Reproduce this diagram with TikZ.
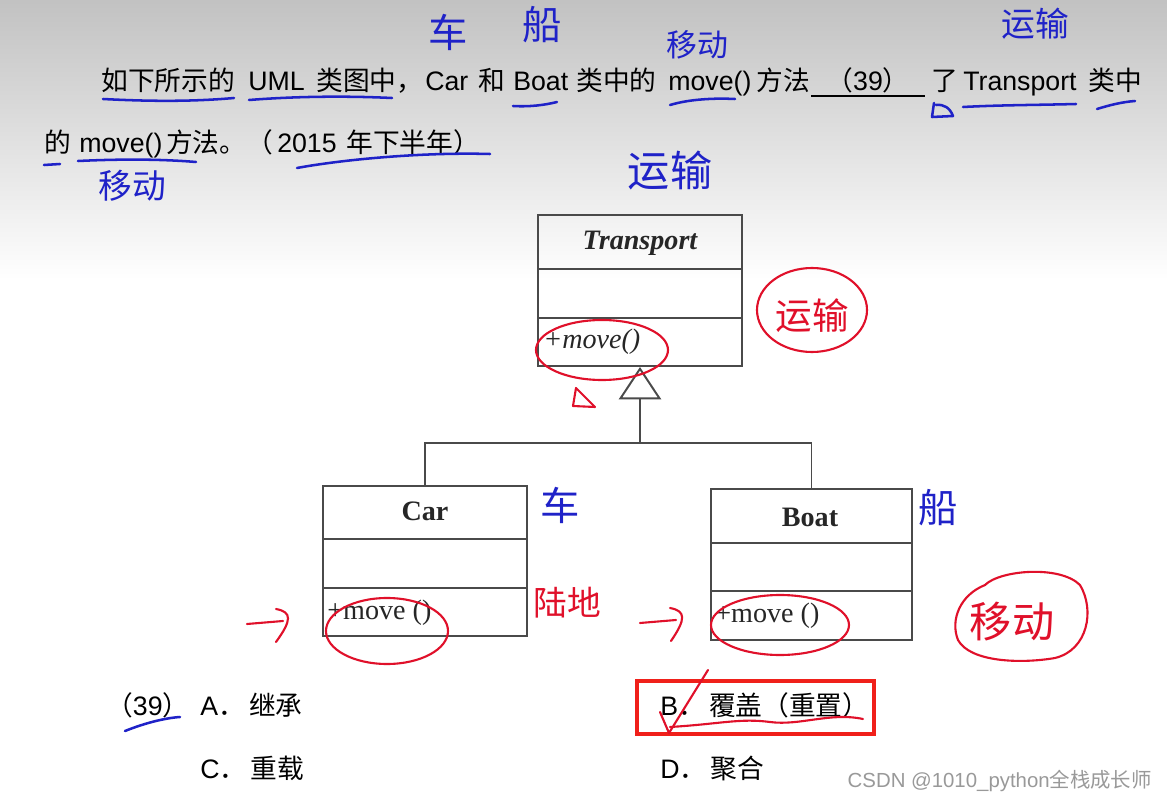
\documentclass[tikz,border=0pt]{standalone}
\usepackage{fontspec}
\setmainfont{Liberation Sans}
\newfontfamily\cjk{Noto Sans CJK SC}
\newfontfamily\tms{Liberation Serif}
\usetikzlibrary{arrows.meta}
\definecolor{pen}{HTML}{1F22C8}
\definecolor{redpen}{HTML}{E0102A}
\definecolor{boxred}{HTML}{F0201A}
\definecolor{umlln}{HTML}{4A4A4A}
\newcommand\hwf[1]{\cjk\fontsize{#1}{#1}\selectfont}
\begin{document}
\begin{tikzpicture}[x=0.025cm,y=-0.025cm,
  qt/.style={anchor=base west,inner sep=0,font=\fontsize{19}{22}\selectfont},
  cls/.style={draw=umlln,line width=1.4pt,inner sep=0},
  umlline/.style={draw=umlln,line width=1.4pt},
  umltxt/.style={inner sep=0,text=black!85},
  bp/.style={draw=pen,line width=1.8pt,line cap=round,line join=round},
  rp/.style={draw=redpen,line width=1.5pt,line cap=round,line join=round},
  hwb/.style={inner sep=0,text=pen},
  hwr/.style={inner sep=0,text=redpen}]
\useasboundingbox (0,0) rectangle (1167,801);
\fill[white] (0,0) rectangle (1167,801);
\shade[top color=black!24,bottom color=white] (0,0) rectangle (1167,280);

% ---------- question text, line 1
\node[qt] (l1a) at (101,91) {\cjk 如下所示的};
\node[qt] (l1b) at (248,91) {UML};
\node[qt] (l1c) at (316,91) {\cjk 类图中，};
\node[qt] (l1d) at (425,91) {Car};
\node[qt] (l1e) at (478,91) {\cjk 和};
\node[qt] (l1f) at (513,91) {Boat};
\node[qt] (l1g) at (576,91) {\cjk 类中的};
\node[qt] (l1h) at (668,91) {move()};
\node[qt] (l1i) at (756,91) {\cjk 方法};
\draw[line width=1.4pt] (811,96) -- (925,96);
\node[qt,anchor=base] (l1j) at (868,91) {{\cjk （}39{\cjk ）}};
\node[qt] (l1k) at (931,91) {\cjk 了};
\node[qt] (l1l) at (963,91) {Transport};
\node[qt] (l1m) at (1088,91) {\cjk 类中};
% ---------- line 2
\node[qt] (l2a) at (44,153) {\cjk 的};
\node[qt] (l2b) at (79,153) {move()};
\node[qt] (l2c) at (166,153) {\cjk 方法。（};
\node[qt] (l2d) at (277,153) {2015};
\node[qt] (l2e) at (346,153) {\cjk 年下半年）};

% ---------- UML class diagram
\node[cls,minimum width=5.1cm,minimum height=3.775cm] (transport) at (640,290.5) {};
\draw[umlline] (538,269) -- (742,269) (538,318) -- (742,318);
\node[umltxt,font=\tms\bfseries\itshape\fontsize{20}{24}\selectfont] (tname) at (640,243) {Transport};
\node[umltxt,anchor=base west,font=\tms\itshape\fontsize{20}{24}\selectfont] (tmove) at (543,349) {+move()};

\node[cls,minimum width=5.1cm,minimum height=3.75cm] (car) at (425,561) {};
\draw[umlline] (323,539) -- (527,539) (323,588) -- (527,588);
\node[umltxt,font=\tms\bfseries\fontsize{20}{24}\selectfont] (cname) at (425,511) {Car};
\node[umltxt,anchor=base west,font=\tms\fontsize{20}{24}\selectfont] (cmove) at (327,619) {+move ()};

\node[cls,minimum width=5.025cm,minimum height=3.775cm] (boat) at (811.5,564.5) {};
\draw[umlline] (711,543) -- (912,543) (711,591) -- (912,591);
\node[umltxt,font=\tms\bfseries\fontsize{20}{24}\selectfont] (bname) at (810,517) {Boat};
\node[umltxt,anchor=base west,font=\tms\fontsize{20}{24}\selectfont] (bmove) at (715,622) {+move ()};

\coordinate (jn) at (640,443);
\draw[umlline] (car.north) |- (jn) -| (boat.north);
\draw[umlline,-{Triangle[open,length=23pt,width=30pt]}] (jn) -- (transport.south);

% ---------- options
\node[qt] (o39) at (106,715) {{\cjk （}39{\cjk ）}};
\node[qt] (oa) at (200,715) {A{\cjk ．\hspace{3pt}继承}};
\node[qt] (ob) at (660,715) {B{\cjk ．\hspace{3pt}覆盖（重置）}};
\node[qt] (oc) at (200,778) {C{\cjk ．\hspace{3pt}重载}};
\node[qt] (od) at (660,778) {D{\cjk ．\hspace{3pt}聚合}};
\node[draw=boxred,line width=2.8pt,inner sep=0,minimum width=5.925cm,minimum height=1.325cm] (rbox) at (755.5,707.5) {};
\node[anchor=base east,inner sep=0,text=black!40,font=\fontsize{14.5}{16}\selectfont] (wm) at (1152,787) {CSDN @1010\_python{\cjk 全栈成长师}};

% ---------- blue pen annotations
\draw[bp] (103,99) .. controls (160,102) and (200,101) .. (234,98);
\draw[bp] (249,100) .. controls (300,96) and (350,96) .. (392,98);
\draw[bp] (513,106) .. controls (530,107) and (545,105) .. (557,102);
\draw[bp] (670,105) .. controls (690,99) and (715,98) .. (735,99);
\draw[bp] (963,107) .. controls (1000,105) and (1040,105) .. (1076,104);
\draw[bp] (1097,109) .. controls (1110,105) and (1122,102) .. (1135,101);
\draw[bp] (934,103) -- (932,117) -- (953,116) .. controls (950,108) and (944,104) .. (936,105);
\draw[bp] (44,165) -- (60,164);
\draw[bp] (78,161) .. controls (120,159) and (160,159) .. (196,162);
\draw[bp] (297,168) .. controls (340,160) and (420,152) .. (490,154);
\draw[bp] (125,731) .. controls (145,723) and (165,718) .. (180,717);
\node[hwb,font=\hwf{28}] (h1) at (448,32) {车};
\node[hwb,font=\hwf{28}] (h2) at (542,25) {船};
\node[hwb,font=\hwf{22}] (h3) at (697,45) {移动};
\node[hwb,font=\hwf{24}] (h4) at (1035,24) {运输};
\node[hwb,font=\hwf{24}] (h5) at (132,186) {移动};
\node[hwb,font=\hwf{30}] (h6) at (670,170) {运输};
\node[hwb,font=\hwf{28}] (h7) at (560,505) {车};
\node[hwb,font=\hwf{28}] (h8) at (938,508) {船};

% ---------- red pen annotations
\draw[rp] (602,350) ellipse [x radius=66, y radius=30];
\draw[rp] (812,310) ellipse [x radius=55, y radius=42];
\node[hwr,font=\hwf{26}] (r1) at (812,316) {运输};
\draw[rp] (576,388) -- (573,406) -- (595,407) -- cycle;
\draw[rp] (387,631) ellipse [x radius=61, y radius=33];
\draw[rp] (780,625) ellipse [x radius=69, y radius=30];
\node[hwr,font=\hwf{24}] (r2) at (567,603) {陆地};
\draw[rp] (247,624) -- (283,621);
\draw[rp] (276,609) .. controls (292,612) and (292,620) .. (276,642);
\draw[rp] (640,623) -- (676,620);
\draw[rp] (670,608) .. controls (686,611) and (686,619) .. (671,641);
\draw[rp] (985,585) .. controls (1000,570) and (1060,565) .. (1080,585)
  .. controls (1095,610) and (1088,650) .. (1055,658)
  .. controls (1020,664) and (970,662) .. (958,640)
  .. controls (950,620) and (960,595) .. (985,585);
\node[hwr,font=\hwf{30}] (r3) at (1012,622) {移动};
\draw[rp] (708,670) -- (669,733) -- (660,712);
\draw[rp] (670,727) .. controls (720,724) and (740,718) .. (770,722)
  .. controls (800,726) and (830,712) .. (863,719);
\end{tikzpicture}
\end{document}
